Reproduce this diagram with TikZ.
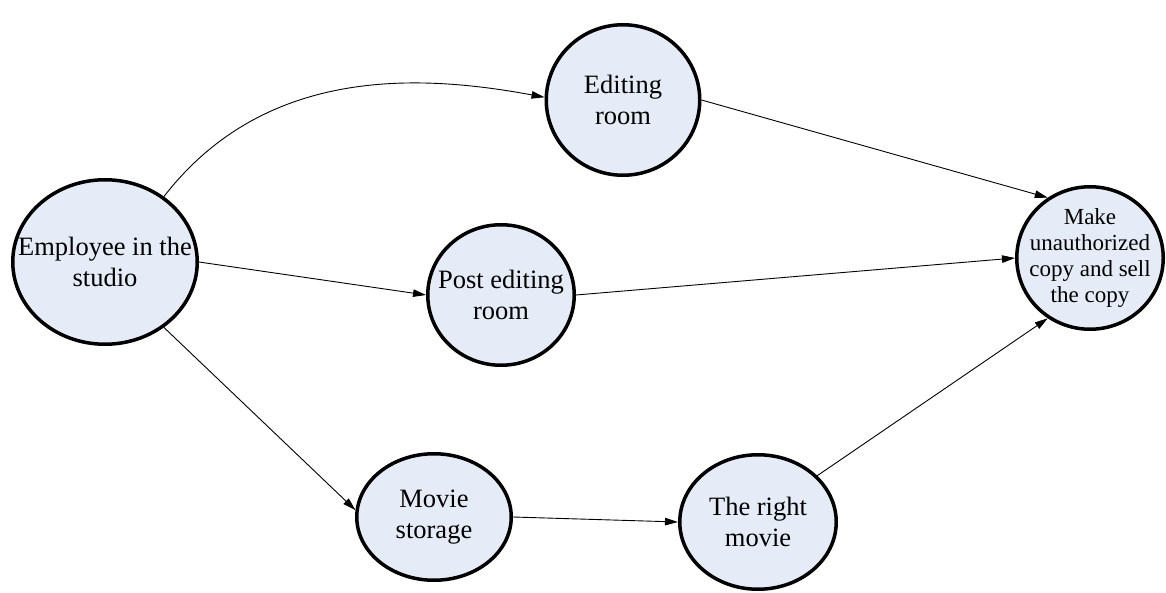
\documentclass[tikz,border=0pt]{standalone}
\usepackage{fontspec}
\setmainfont{Liberation Serif}
\usetikzlibrary{shapes.geometric,arrows.meta}
\definecolor{nodefill}{RGB}{230,236,247}
\begin{document}
\begin{tikzpicture}[x=1pt,y=-1pt,
  bubble/.style={ellipse, draw=black, line width=3.5pt, fill=nodefill, inner sep=0pt},
  txt/.style={align=center, inner sep=0pt, font=\fontsize{26.5}{31.5}\selectfont},
  smalltxt/.style={align=center, inner sep=0pt, font=\fontsize{23}{26}\selectfont},
  link/.style={line width=0.9pt, -{Triangle[length=13pt,width=7.5pt]}}]
\useasboundingbox (0,0) rectangle (1166,593);
\node[bubble, minimum width=184.5pt, minimum height=164.5pt] (emp) at (105,262) {};
\node[bubble, minimum width=153.5pt, minimum height=150.5pt] (ed) at (623,100) {};
\node[bubble, minimum width=146.5pt, minimum height=140.5pt] (pe) at (501,295) {};
\node[bubble, minimum width=154.5pt, minimum height=126.5pt] (ms) at (434,517) {};
\node[bubble, minimum width=156.5pt, minimum height=134.5pt] (rm) at (758,522) {};
\node[bubble, minimum width=146.5pt, minimum height=142.5pt] (mk) at (1090,258) {};
\node[txt] (empt) at (emp.center) {Employee in the\\studio};
\node[txt] (edt) at (ed.center) {Editing\\room};
\node[txt] (pet) at (pe.center) {Post editing\\room};
\node[txt] (mst) at (ms.center) {Movie\\storage};
\node[txt] (rmt) at (rm.center) {The right\\movie};
\node[smalltxt] (mkt) at (mk.center) {Make\\unauthorized\\copy and sell\\the copy};
\draw[link] (emp.48) .. controls (265,66) and (419,74) .. (ed.178);
\draw[link] (emp.east) -- (pe.west);
\draw[link] (emp.-48) -- (ms.175);
\draw[link] (ed.east) -- (mk.125);
\draw[link] (pe.east) -- (mk.west);
\draw[link] (ms.east) -- (rm.west);
\draw[link] (rm.38) -- (mk.235);
\end{tikzpicture}
\end{document}
